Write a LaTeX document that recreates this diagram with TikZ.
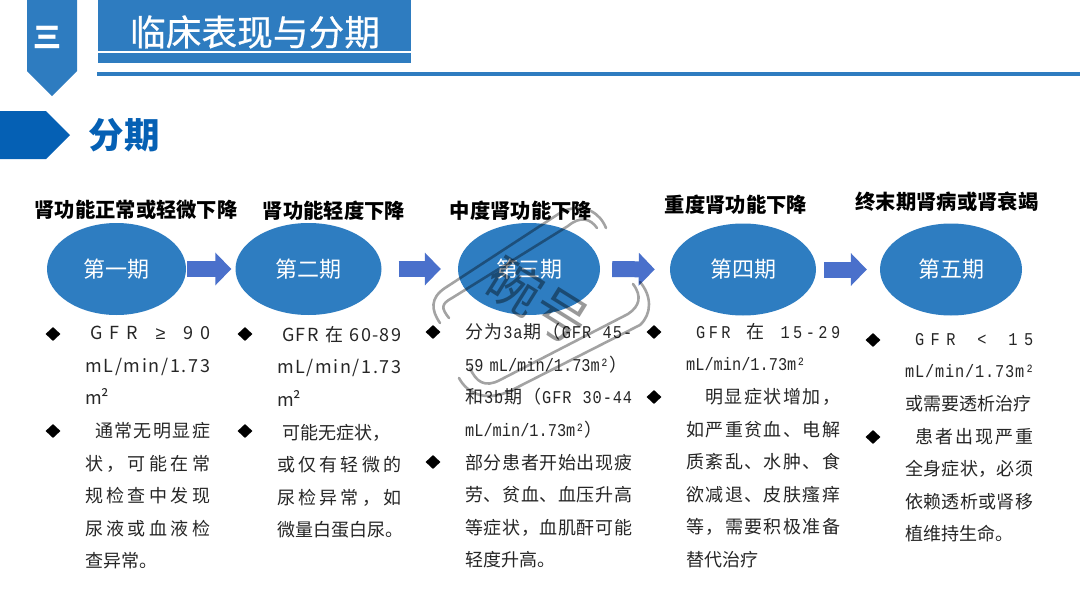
\documentclass[tikz,border=0pt]{standalone}
\usepackage{fontspec}
\setmainfont{Noto Sans CJK SC}
\newfontfamily\latinmono[FakeStretch=0.85]{Liberation Mono}
\newfontfamily\cjkfont{Noto Sans CJK SC}
\newfontfamily\geqfont{Liberation Sans}
\newfontfamily\titlefont[FakeBold=0.6]{Noto Sans CJK SC}
\usetikzlibrary{arrows.meta, positioning, calc, shapes.geometric}
\definecolor{slideblue}{HTML}{2E7CC0}
\definecolor{tagblue}{HTML}{0560B4}
\definecolor{ovalblue}{HTML}{2E7DC1}
\definecolor{flowblue}{HTML}{4A70CB}
\definecolor{bodygray}{HTML}{262626}
% one line of text spread to a given width
\def\fitgo#1{\ifx#1\relax\unskip\else#1\hfil\expandafter\fitgo\fi}
\newcommand\fitline[2]{\makebox[#1][s]{\fitgo#2\relax}}
\newcommand\mn{\hfilneg\latinmono}
\newcommand\cj{\hfilneg\cjkfont}
\newcommand\geqsign{{\geqfont ≥}}

\begin{document}
\begin{tikzpicture}[
  x=1pt, y=-1pt,
  stagenode/.style={ellipse, fill=ovalblue, inner sep=0pt, minimum height=92pt,
                    text=white, font=\fontsize{22}{24}\selectfont},
  stagehead/.style={font=\fontsize{20.3}{24}\selectfont\bfseries, text=black, inner sep=0pt},
  stagetext/.style={anchor=north west, align=left, inner sep=0pt, text=bodygray,
                    font=\fontsize{18}{32.6}\selectfont},
  markbox/.style={diamond, fill=black, inner sep=0pt, minimum width=15pt, minimum height=14pt},
  arw/.style={-{Triangle[length=16pt, width=32pt]}, line width=16pt, draw=flowblue},
  stamp/.style={draw=black, line width=2.6pt, opacity=0.36, line cap=round},
]
\useasboundingbox (0,0) rectangle (1080,608);

% === Header ===
\fill[slideblue] (27,0) -- (77,0) -- (77,71) -- (52,96) -- (27,71) -- cycle;
\node[text=white, font=\fontsize{28}{32}\selectfont\bfseries, inner sep=0pt] (num) at (48,37) {三};
\fill[slideblue] (98,0) rectangle (411,63);
\fill[white] (98,50.5) rectangle (411,52.5);
\fill[slideblue] (97,72) rectangle (1080,76);
\node[text=white, font=\titlefont\fontsize{35.7}{38}\selectfont, inner sep=0pt] (title) at (255,32) {临床表现与分期};
\fill[tagblue] (0,111) -- (46,111) -- (70,135) -- (46,159) -- (0,159) -- cycle;
\node[text=tagblue, font=\fontsize{35.5}{36}\selectfont\bfseries, inner sep=0pt] (sub) at (124,135) {分期};

% === Five stages ===
\node[stagenode, minimum width=139pt] (one) at (116.5,269) {第一期};
\node[stagenode, minimum width=146pt] (two) at (308.5,269) {第二期};
\node[stagenode, minimum width=142pt] (three) at (529,269) {第三期};
\node[stagenode, minimum width=146pt] (four) at (743,269.5) {第四期};
\node[stagenode, minimum width=142pt] (five) at (951,269.5) {第五期};

\node[stagehead] (headone) at (136,210) {肾功能正常或轻微下降};
\node[stagehead] (headtwo) at (334,211) {肾功能轻度下降};
\node[stagehead] (headthree) at (521,211) {中度肾功能下降};
\node[stagehead] (headfour) at (736,205) {重度肾功能下降};
\node[stagehead] (headfive) at (947,202) {终末期肾病或肾衰竭};

% === Arrows between stages ===
\draw[arw, shorten <=1pt, shorten >=4pt] (one.east) -- (two.west);
\draw[arw, shorten <=17pt, shorten >=17pt] (two.east) -- (three.west);
\draw[arw, shorten <=12pt, shorten >=15pt] (three.east) -- (four.west);
\draw[arw, shorten <=8pt, shorten >=13pt] (four.east) -- (five.west);

% === Bullets ===
\foreach \px/\py/\pname in {53/334/a, 53/431/b, 245/334/c, 245/431/d, 433/332/e, 433/462/f,
                            654/332/g, 654/397/h, 873/340/i, 873/437/j}
  \node[markbox] (mark\pname) at (\px,\py) {};

% === Column text ===
\node[stagetext] (textone) at (85,326) {
  \hspace{5pt}\fitline{120pt}{GFR~\geqsign~90}\\
  \fitline{125pt}{mL/min/1.73}\\
  m²\\
  \hspace{10pt}\fitline{115pt}{通常无明显症}\\
  \fitline{125pt}{状，可能在常}\\
  \fitline{125pt}{规检查中发现}\\
  \fitline{125pt}{尿液或血液检}\\
  查异常。};
\node[stagetext] (texttwo) at (277,326) {
  \hspace{5pt}\fitline{119pt}{GFR~在~60-89}\\
  \fitline{124pt}{mL/min/1.73}\\
  m²\\
  \hspace{5pt}\fitline{104pt}{可能无症状，}\\
  \fitline{124pt}{或仅有轻微的}\\
  \fitline{124pt}{尿检异常，如}\\
  微量白蛋白尿。};
\node[stagetext] (textthree) at (465,323) {
  \fitline{167pt}{分为\mn 3a\cj 期（\mn GFR~45-}\\
  \fitline{157pt}{\mn 59~mL/min/1.73m²\cj ）}\\
  \fitline{167pt}{和\mn 3b\cj 期（\mn GFR~30-44}\\
  \fitline{122pt}{\mn mL/min/1.73m²\cj ）}\\
  \fitline{167pt}{部分患者开始出现疲}\\
  \fitline{167pt}{劳、贫血、血压升高}\\
  \fitline{167pt}{等症状，血肌酐可能}\\
  轻度升高。};
\node[stagetext] (textfour) at (686,323) {
  \hspace{10pt}\fitline{144pt}{\mn GFR~\cj 在\mn ~15-29}\\
  \fitline{114pt}{\mn mL/min/1.73m²}\\
  \hspace{19pt}\fitline{135pt}{明显症状增加，}\\
  \fitline{154pt}{如严重贫血、电解}\\
  \fitline{154pt}{质紊乱、水肿、食}\\
  \fitline{154pt}{欲减退、皮肤瘙痒}\\
  \fitline{154pt}{等，需要积极准备}\\
  替代治疗};
\node[stagetext] (textfive) at (905,333) {
  \hspace{10pt}\fitline{118pt}{\mn GFR~<~15}\\
  \fitline{129pt}{\mn mL/min/1.73m²}\\
  或需要透析治疗\\
  \hspace{10pt}\fitline{118pt}{患者出现严重}\\
  \fitline{128pt}{全身症状，必须}\\
  \fitline{128pt}{依赖透析或肾移}\\
  植维持生命。};

% === Stamp over the third stage ===
\draw[stamp] (440,323) .. controls (431,310) and (430,298) .. (445,288) -- (563,211)
  .. controls (585,203) and (600,213) .. (606,228);
\draw[stamp] (449,318) .. controls (441,308) and (441,304) .. (452,298) -- (568,226)
  .. controls (580,216) and (590,218) .. (597,228);
\draw[stamp] (633,284) .. controls (642,296) and (640,306) .. (628,314) -- (500,380)
  .. controls (485,388) and (476,382) .. (470,368);
\draw[stamp] (640,282) .. controls (652,296) and (652,314) .. (640,325) -- (512,390)
  .. controls (488,402) and (468,395) .. (459,378);
\node[rotate=-32, text=black, opacity=0.4, inner sep=0pt,
      font=\fontsize{54}{56}\selectfont] (stampword) at (538,301) {碗号};

\end{tikzpicture}
\end{document}
